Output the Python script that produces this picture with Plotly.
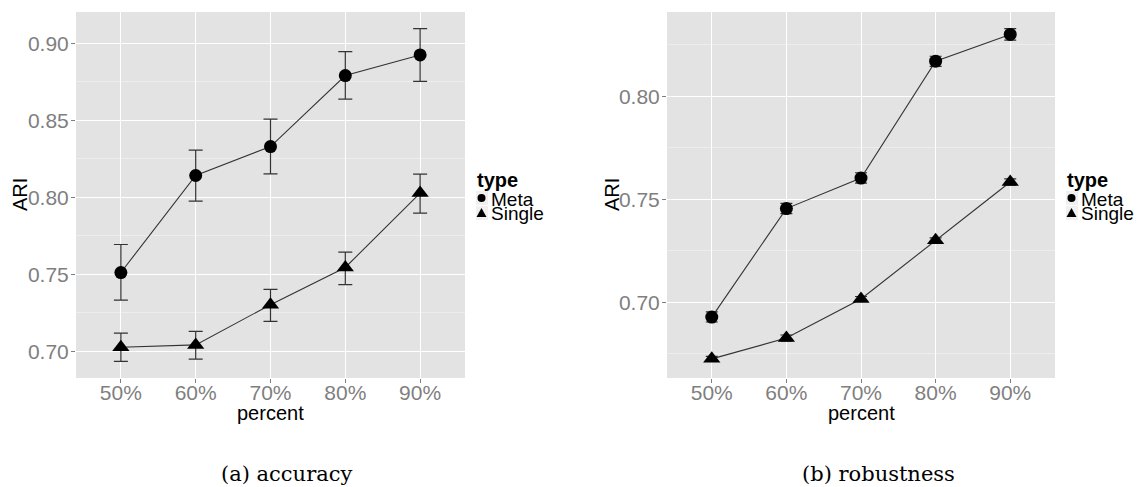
import plotly.graph_objects as go

W, H = 1137, 487

# ---------------- data ----------------
percent = ["50%", "60%", "70%", "80%", "90%"]

acc_meta = [0.7511, 0.8141, 0.8329, 0.8790, 0.8924]
acc_meta_lo = [0.7332, 0.7975, 0.8152, 0.8637, 0.8753]
acc_meta_hi = [0.7693, 0.8306, 0.8507, 0.8946, 0.9095]
acc_single = [0.7026, 0.7041, 0.7302, 0.7544, 0.8027]
acc_single_lo = [0.6934, 0.6948, 0.7194, 0.7432, 0.7897]
acc_single_hi = [0.7118, 0.7129, 0.7401, 0.7644, 0.8150]

rob_meta = [0.6928, 0.7455, 0.7603, 0.8171, 0.8301]
rob_meta_lo = [0.6904, 0.7431, 0.7579, 0.8146, 0.8273]
rob_meta_hi = [0.6953, 0.7480, 0.7629, 0.8195, 0.8329]
rob_single = [0.6725, 0.6826, 0.7016, 0.7301, 0.7584]
rob_single_lo = [0.6713, 0.6811, 0.7004, 0.7289, 0.7569]
rob_single_hi = [0.6737, 0.6841, 0.7028, 0.7313, 0.7599]

acc_yticks = [0.70, 0.75, 0.80, 0.85, 0.90]
rob_yticks = [0.70, 0.75, 0.80]

series_names = ["Meta", "Single"]
captions = ["(a) accuracy", "(b) robustness"]


def px(x):
    return x / W


def py(y):
    return 1 - y / H


fig = go.Figure()

LINE = "#333333"
SANS = "Liberation Sans, Arial, sans-serif"


def add_series(vals, lo, hi, symbol, size, xa, ya, capw):
    fig.add_trace(go.Scatter(
        x=percent, y=vals, xaxis=xa, yaxis=ya,
        mode="lines+markers",
        line=dict(color=LINE, width=1.1),
        marker=dict(symbol=symbol, size=size, color="black"),
        error_y=dict(type="data", symmetric=False,
                     array=[h - v for h, v in zip(hi, vals)],
                     arrayminus=[v - l for v, l in zip(vals, lo)],
                     color=LINE, thickness=1.2, width=capw),
        showlegend=False, hoverinfo="x+y",
    ))


add_series(acc_meta, acc_meta_lo, acc_meta_hi, "circle", 13, "x", "y", 7)
add_series(acc_single, acc_single_lo, acc_single_hi, "triangle-up", 15, "x", "y", 7)
add_series(rob_meta, rob_meta_lo, rob_meta_hi, "circle", 13, "x2", "y2", 6)
add_series(rob_single, rob_single_lo, rob_single_hi, "triangle-up", 15, "x2", "y2", 6)

BG = "#E3E3E3"
ydom = [py(378), py(12)]

xcommon = dict(type="category", range=[-0.6, 4.6], showgrid=True, gridcolor="white",
               gridwidth=1.3, zeroline=False, showline=False, ticks="outside",
               ticklen=4, tickwidth=1, tickcolor="#7F7F7F", ticklabelstandoff=-8,
               tickfont=dict(family=SANS, size=21, color="#7F7F7F"),
               categoryorder="array", categoryarray=percent)


def ycommon(rng, tv):
    return dict(range=rng, tickvals=tv, ticktext=["%.2f" % t for t in tv],
                showgrid=True, gridcolor="white", gridwidth=1.3, zeroline=False,
                showline=False, ticks="outside", ticklen=4, tickwidth=1,
                tickcolor="#7F7F7F", ticklabelstandoff=-2,
                tickfont=dict(family=SANS, size=21, color="#7F7F7F"),
                minor=dict(dtick=0.025, tick0=0.675, showgrid=True, gridcolor="#EDEDED",
                           gridwidth=0.8, ticks=""),
                domain=ydom)


fig.update_layout(
    width=W, height=H, margin=dict(l=0, r=0, t=0, b=0),
    paper_bgcolor="white", plot_bgcolor=BG,
    xaxis=dict(domain=[px(76), px(465)], anchor="y", **xcommon),
    yaxis=dict(anchor="x", **ycommon([0.6826, 0.9203], acc_yticks)),
    xaxis2=dict(domain=[px(667), px(1055)], anchor="y2", **xcommon),
    yaxis2=dict(anchor="x2", **ycommon([0.6632, 0.8410], rob_yticks)),
    showlegend=False,
)

ann = []
shapes = []

# axis titles
for cx, xt_cx in [(20, 270.5), (612, 861)]:
    ann.append(dict(x=px(cx), y=py(195), xref="paper", yref="paper", text="ARI",
                    textangle=-90, showarrow=False, xanchor="center", yanchor="middle",
                    font=dict(family=SANS, size=20, color="black")))
    ann.append(dict(x=px(xt_cx), y=py(413), xref="paper", yref="paper", text="percent",
                    showarrow=False, xanchor="center", yanchor="middle",
                    font=dict(family=SANS, size=20, color="black")))

# legends (drawn manually, ggplot style)
for lx in [476, 1066]:
    ann.append(dict(x=px(lx - 1), y=py(180), xref="paper", yref="paper", text="<b>type</b>",
                    showarrow=False, xanchor="left", yanchor="middle",
                    font=dict(family=SANS, size=20, color="black")))
    for i, name in enumerate(series_names):
        cy = 198 + 15 * i
        shapes.append(dict(type="rect", xref="paper", yref="paper",
                           x0=px(lx), x1=px(lx + 12), y0=py(cy + 7), y1=py(cy - 7),
                           fillcolor="#F0F0F0", line=dict(width=0), layer="below"))
        ann.append(dict(x=px(lx + 13), y=py(cy + 1), xref="paper", yref="paper", text=name,
                        showarrow=False, xanchor="left", yanchor="middle",
                        font=dict(family=SANS, size=19, color="black")))
    mx = lx + 5.5
    shapes.append(dict(type="circle", xref="paper", yref="paper",
                       x0=px(mx - 4), x1=px(mx + 4), y0=py(198 + 4), y1=py(198 - 4),
                       fillcolor="black", line=dict(width=0)))
    ty = 213
    shapes.append(dict(type="path", xref="paper", yref="paper",
                       path="M %f %f L %f %f L %f %f Z" % (px(mx - 5), py(ty + 4), px(mx + 5), py(ty + 4), px(mx), py(ty - 5)),
                       fillcolor="black", line=dict(width=0)))

# captions
for cx, cap in zip([286, 878], captions):
    ann.append(dict(x=px(cx), y=py(474), xref="paper", yref="paper", text=cap,
                    showarrow=False, xanchor="center", yanchor="middle",
                    font=dict(family="DejaVu Serif, serif", size=21, color="black")))

fig.update_layout(annotations=ann, shapes=shapes)
fig.write_html("out.html")
